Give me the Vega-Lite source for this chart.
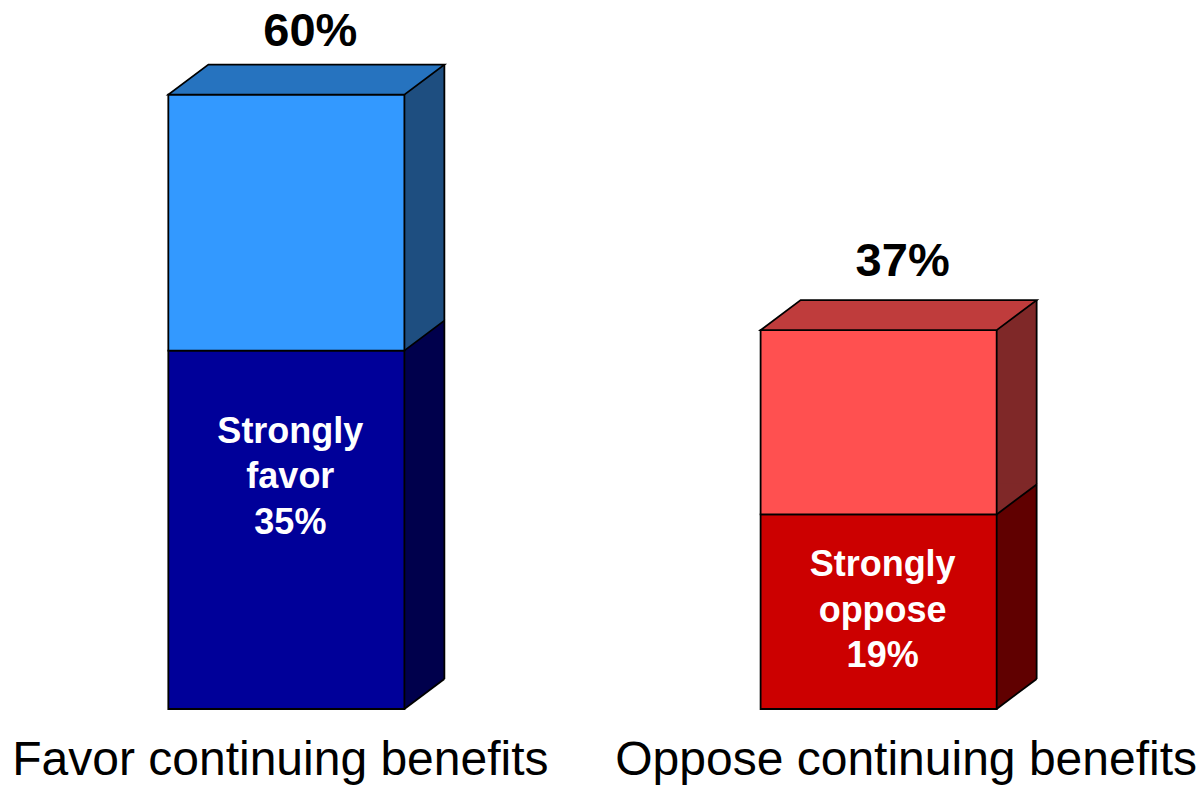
{
  "$schema": "https://vega.github.io/schema/vega-lite/v6.json",
  "width": 1165,
  "height": 709,
  "autosize": {"type": "none"},
  "padding": {"left": 0, "top": 0, "right": 38, "bottom": 76},
  "background": "white",
  "config": {"view": {"stroke": null}},
  "data": {
    "values": [
      {"cat": "Favor continuing benefits", "strong": 0.35, "total": 0.60, "strongLabel": "Strongly\nfavor\n35%"},
      {"cat": "Oppose continuing benefits", "strong": 0.19, "total": 0.37, "strongLabel": "Strongly\noppose\n19%"}
    ]
  },
  "encoding": {
    "x": {"field": "cat", "type": "nominal", "sort": null, "axis": null,
          "scale": {"type": "band", "paddingInner": 0.6014, "paddingOuter": 0.2842}}
  },
  "layer": [
    {
      "mark": {"type": "bar", "width": 40, "xOffset": 138, "yOffset": -30, "strokeWidth": 0},
      "encoding": {
        "y": {"field": "total", "type": "quantitative", "scale": {"domain": [0, 0.69238], "nice": false}, "axis": null},
        "y2": {"field": "strong"},
        "fill": {"condition": {"test": "datum.cat === 'Favor continuing benefits'", "value": "#1E4E80"}, "value": "#7F2828"}
      }
    },
    {
      "mark": {"type": "bar", "width": 40, "xOffset": 138, "yOffset": -30, "strokeWidth": 0},
      "encoding": {
        "y": {"field": "strong", "type": "quantitative"},
        "y2": {"datum": 0},
        "fill": {"condition": {"test": "datum.cat === 'Favor continuing benefits'", "value": "#00004C"}, "value": "#600000"}
      }
    },
    {
      "mark": {"type": "point", "shape": "M-1,0.5 L-1,-31 L41,-31 Z", "size": 4, "xOffset": 118, "filled": true, "opacity": 1, "strokeWidth": 0},
      "encoding": {
        "y": {"field": "strong", "type": "quantitative"},
        "fill": {"condition": {"test": "datum.cat === 'Favor continuing benefits'", "value": "#1E4E80"}, "value": "#7F2828"}
      }
    },
    {
      "mark": {"type": "point", "shape": "M0,0 L40,-30 L43,-30 L43,3 L0,3 Z", "size": 4, "xOffset": 118, "filled": true, "opacity": 1, "strokeWidth": 0, "fill": "white"},
      "encoding": {
        "y": {"datum": 0, "type": "quantitative"}
      }
    },
    {
      "mark": {"type": "bar", "stroke": "black", "strokeWidth": 1.8},
      "encoding": {
        "y": {"field": "strong", "type": "quantitative"},
        "y2": {"datum": 0},
        "fill": {"condition": {"test": "datum.cat === 'Favor continuing benefits'", "value": "#000099"}, "value": "#CC0000"}
      }
    },
    {
      "mark": {"type": "bar", "stroke": "black", "strokeWidth": 1.8},
      "encoding": {
        "y": {"field": "total", "type": "quantitative"},
        "y2": {"field": "strong"},
        "fill": {"condition": {"test": "datum.cat === 'Favor continuing benefits'", "value": "#3399FF"}, "value": "#FF5050"}
      }
    },
    {
      "mark": {"type": "point", "shape": "M-118,0 L118,0 L158,-30 L-78,-30 Z", "size": 4, "filled": true, "opacity": 1, "stroke": "black", "strokeWidth": 1.8},
      "encoding": {
        "y": {"field": "total", "type": "quantitative"},
        "fill": {"condition": {"test": "datum.cat === 'Favor continuing benefits'", "value": "#2673BF"}, "value": "#BF3C3C"}
      }
    },
    {
      "mark": {"type": "rule", "xOffset": 158, "yOffset": -30, "y2Offset": -30, "color": "black", "stroke": "black", "strokeWidth": 1.8},
      "encoding": {
        "y": {"field": "total", "type": "quantitative"},
        "y2": {"datum": 0}
      }
    },
    {
      "mark": {"type": "point", "shape": "M0,0 L40,-30", "size": 4, "xOffset": 118, "filled": false, "opacity": 1, "color": "black", "stroke": "black", "strokeWidth": 1.8},
      "encoding": {
        "y": {"field": "strong", "type": "quantitative"}
      }
    },
    {
      "mark": {"type": "point", "shape": "M0,0 L40,-30", "size": 4, "xOffset": 118, "filled": false, "opacity": 1, "color": "black", "stroke": "black", "strokeWidth": 1.8},
      "encoding": {
        "y": {"datum": 0, "type": "quantitative"}
      }
    },
    {
      "mark": {"type": "text", "font": "Liberation Sans", "fontWeight": "bold", "fontSize": 47, "color": "black",
               "align": "center", "baseline": "alphabetic", "dx": 24,
               "dy": {"expr": "datum.cat === 'Favor continuing benefits' ? -49 : -54"}},
      "encoding": {
        "y": {"field": "total", "type": "quantitative"},
        "text": {"field": "total", "type": "quantitative", "format": ".0%"}
      }
    },
    {
      "mark": {"type": "text", "font": "Liberation Sans", "fontWeight": "bold", "fontSize": 36, "color": "white",
               "align": "center", "baseline": "alphabetic", "lineBreak": "\n", "lineHeight": 45.5, "dx": 4,
               "dy": {"expr": "datum.cat === 'Favor continuing benefits' ? 92 : 62"}},
      "encoding": {
        "y": {"field": "strong", "type": "quantitative"},
        "text": {"field": "strongLabel", "type": "nominal"}
      }
    },
    {
      "mark": {"type": "text", "font": "Liberation Sans", "fontSize": 48, "color": "black",
               "align": "center", "baseline": "alphabetic", "dy": 66,
               "dx": {"expr": "datum.cat === 'Favor continuing benefits' ? -6 : 27.5"}},
      "encoding": {
        "y": {"datum": 0, "type": "quantitative"},
        "text": {"field": "cat", "type": "nominal"}
      }
    }
  ]
}
